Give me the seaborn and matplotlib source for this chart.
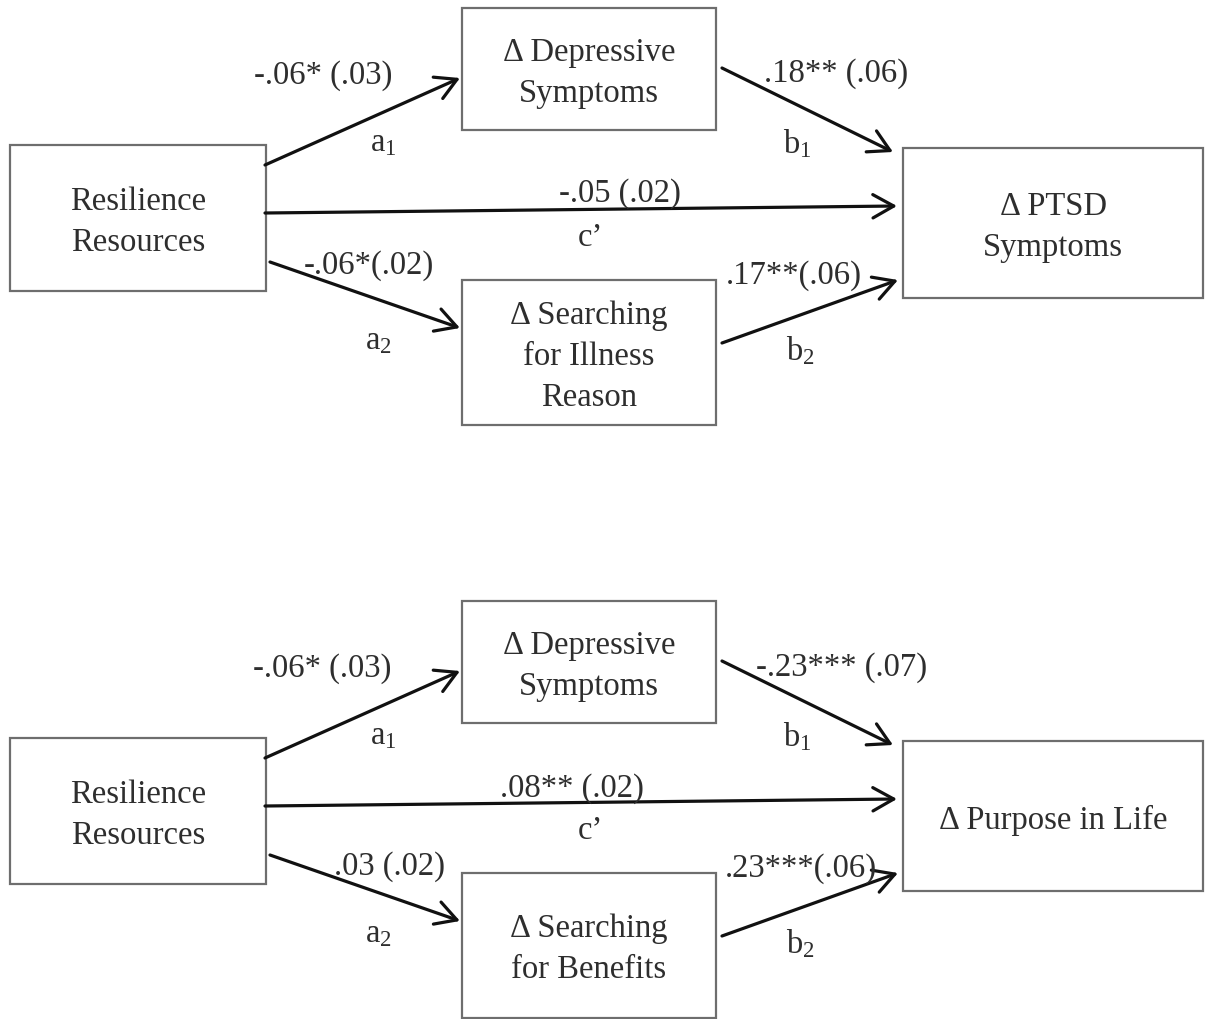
import numpy as np
import pandas as pd
import seaborn as sns
import matplotlib.pyplot as plt
from matplotlib.patches import Rectangle

# diagram content (two mediation models)
predictor = "Resilience\nResources"
mediator_1 = ["Δ Depressive\nSymptoms", "Δ Depressive\nSymptoms"]
mediator_2 = ["Δ Searching\nfor Illness\nReason", "Δ Searching\nfor Benefits"]
outcomes = ["Δ PTSD\nSymptoms", "Δ Purpose in Life"]

path_names = ["a$_1$", "c’", "a$_2$", "b$_1$", "b$_2$"]
coef_a1 = ["-.06* (.03)", "-.06* (.03)"]
coef_c = ["-.05 (.02)", ".08** (.02)"]
coef_a2 = ["-.06*(.02)", ".03 (.02)"]
coef_b1 = [".18** (.06)", "-.23*** (.07)"]
coef_b2 = [".17**(.06)", ".23***(.06)"]

# layout in pixel units, relative to the upper model
panel_shift = [0, 593]
boxes = {
    "x": (10, 145, 256, 146),
    "m1": (462, 8, 254, 122),
    "m2": (462, 280, 254, 145),
    "y": (903, 148, 300, 150),
}
arrows = {
    "a1": ((265, 165), (460, 78)),
    "c": ((265, 213), (897, 206)),
    "a2": ((270, 262), (460, 328)),
    "b1": ((722, 68), (893, 152)),
    "b2": ((722, 343), (898, 280)),
}
coef_pos = {
    "a1": [(323, 76), (322, 76)],
    "c": [(620, 194), (572, 196)],
    "a2": [(369, 266), (390, 274)],
    "b1": [(836, 74), (842, 75)],
    "b2": [(794, 276), (801, 276)],
}
name_pos = [(383, 143), (590, 238), (378, 341), (797, 144), (800, 351)]

sns.set_theme(style="white")
plt.rcParams["font.family"] = ["Liberation Serif", "DejaVu Serif"]
plt.rcParams["mathtext.fontset"] = "custom"
plt.rcParams["mathtext.rm"] = "Liberation Serif"
plt.rcParams["mathtext.default"] = "rm"

txt_col = "#2e2e2e"
box_col = "#6e6e6e"
fs = 23.5

fig = plt.figure(figsize=(12.06, 10.19), dpi=100)
ax = fig.add_axes([0, 0, 1, 1])
ax.set_xlim(0, 1206)
ax.set_ylim(1019, 0)
ax.axis("off")

for k, dy in enumerate(panel_shift):
    labels = {"x": predictor, "m1": mediator_1[k], "m2": mediator_2[k], "y": outcomes[k]}
    for key, (bx, by, bw, bh) in boxes.items():
        ax.add_patch(Rectangle((bx, by + dy), bw, bh, fill=False,
                               edgecolor=box_col, lw=1.6))
        ax.text(bx + bw / 2, by + dy + bh / 2 + 4, labels[key], ha="center", va="center",
                fontsize=fs, color=txt_col, linespacing=1.45)

    for key, (p0, p1) in arrows.items():
        ax.annotate("", xy=(p1[0], p1[1] + dy), xytext=(p0[0], p0[1] + dy),
                    arrowprops=dict(arrowstyle="->,head_length=0.75,head_width=0.42",
                                    lw=2.3, color="#111111", shrinkA=0, shrinkB=0,
                                    mutation_scale=20))

    coefs = {"a1": coef_a1[k], "c": coef_c[k], "a2": coef_a2[k],
             "b1": coef_b1[k], "b2": coef_b2[k]}
    for key, val in coefs.items():
        cx, cy = coef_pos[key][k]
        ax.text(cx, cy + dy, val, ha="center", va="center", fontsize=fs, color=txt_col)

    for name, (nx, ny) in zip(path_names, name_pos):
        ax.text(nx, ny + dy, name, ha="center", va="center", fontsize=fs, color=txt_col)

fig.savefig("out.png", dpi=100, facecolor="white")
